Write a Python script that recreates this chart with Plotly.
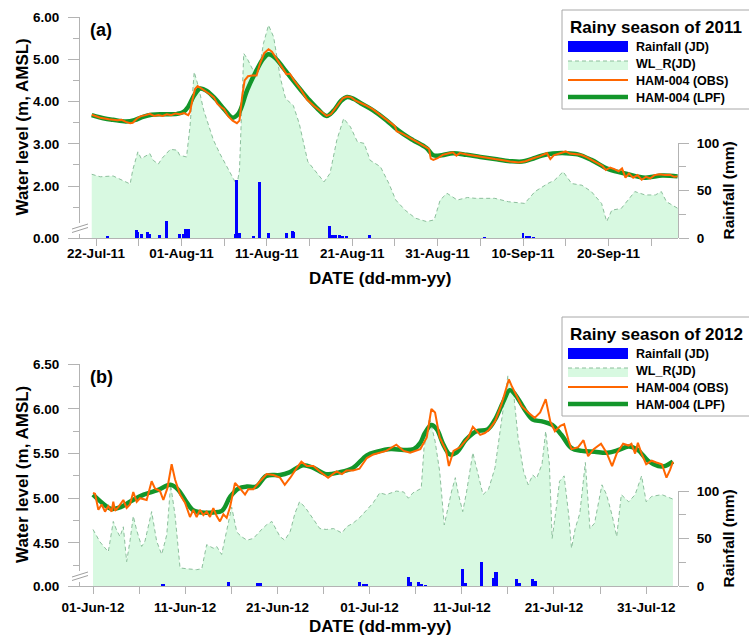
import numpy as np
import pandas as pd
import plotly.graph_objects as go

W, H = 749, 635
DAY_MS = 86400000

# ---------------- Panel (a): rainy season of 2011 (day offsets from 22-Jul-2011) ----------------
A_START = "2011-07-22"
A_RANGE_DAYS = [-1.874, 68.15]
A_TICK_DATES = ["2011-07-22", "2011-08-01", "2011-08-11", "2011-08-21", "2011-08-31", "2011-09-10", "2011-09-20"]
A_TICK_LABELS = ["22-Jul-11", "01-Aug-11", "11-Aug-11", "21-Aug-11", "31-Aug-11", "10-Sep-11", "20-Sep-11"]
A_WL_TICKVALS = [0.771, 2.0, 3.0, 4.0, 5.0, 6.0]      # 0.771 = position of the "0.00" tick below the axis break
A_WL_TICKTEXT = ["0.00", "2.00", "3.00", "4.00", "5.00", "6.00"]
A_WL_MINOR = [1.5, 2.5, 3.5, 4.5, 5.5]
A_WL_RANGE = [0.771, 6.003]

A_LPF_DAY = [-0.5, 1, 2, 3.5, 4.5, 5.5, 6.5, 8, 9.5, 10.2, 10.8, 11.5, 12.2, 13.0, 14.0, 15.0, 16.0, 16.7,
             17.7, 18.8, 19.6, 20.2, 21.0, 22.0, 23.0, 24.0, 25.0, 26.0, 27.0, 27.8, 28.7, 29.4, 30.2, 31.0,
             32.4, 34.0, 35.0, 36.0, 37.1, 38.7, 39.5, 40.5, 41.8, 43.4, 45.0, 46.7, 48.5, 49.9, 51.0, 52.2,
             53.5, 55.0, 56.4, 58.0, 60.0, 62.3, 64.3, 66.3, 68.1]
A_LPF = [3.68, 3.60, 3.57, 3.53, 3.56, 3.64, 3.69, 3.70, 3.71, 3.75, 3.88, 4.15, 4.31, 4.25, 4.06, 3.82, 3.62, 3.72,
         4.27, 4.74, 5.02, 5.12, 5.03, 4.78, 4.52, 4.27, 4.03, 3.82, 3.66, 3.78, 4.02, 4.11, 4.06, 3.96,
         3.80, 3.56, 3.38, 3.23, 3.09, 2.90, 2.73, 2.73, 2.78, 2.74, 2.69, 2.64, 2.59, 2.58, 2.64, 2.72,
         2.77, 2.78, 2.75, 2.62, 2.40, 2.28, 2.20, 2.25, 2.23]

A_OBS_DAY = [-0.5, 0.5, 1.5, 2.5, 3.0, 3.5, 4.0, 4.3, 4.8, 5.2, 5.8, 6.3, 6.8, 7.3, 7.8, 8.3, 8.8, 9.3, 9.8, 10.3,
             10.8, 11.0, 11.3, 11.6, 11.9, 12.3, 12.8, 13.3, 13.8, 14.2, 14.6, 15.0, 15.5, 16.0, 16.5, 16.8, 17.1,
             17.4, 17.8, 18.3, 18.8, 19.2, 19.7, 20.2, 20.6, 21.2, 21.7, 22.3, 22.7, 23.2, 24.0, 24.7, 25.5, 26.3,
             27.0, 27.5, 28.2, 28.9, 29.4, 29.9, 30.4, 30.9, 31.5, 32.4, 33.2, 34.0, 34.6, 35.0, 35.2, 35.8, 36.5,
             37.1, 37.8, 38.5, 39.0, 39.2, 39.5, 40.0, 40.6, 41.2, 41.8, 42.2, 42.6, 43.4, 44.2, 45.0, 46.0, 46.7,
             47.5, 48.5, 49.5, 50.3, 51.2, 52.0, 52.8, 53.2, 53.6, 54.5, 55.0, 55.5, 56.0, 56.8, 57.5, 58.2, 58.8,
             59.3, 59.7, 60.2, 60.7, 61.2, 61.6, 62.0, 62.4, 62.9, 63.4, 63.9, 64.4, 64.9, 65.4, 66.0, 66.6, 67.2,
             67.7, 68.1]
A_OBS = [3.69, 3.62, 3.58, 3.56, 3.57, 3.52, 3.49, 3.50, 3.60, 3.65, 3.68, 3.71, 3.66, 3.68, 3.66, 3.70, 3.68, 3.72,
         3.70, 3.73, 3.68, 3.75, 4.05, 4.30, 4.37, 4.32, 4.25, 4.18, 4.10, 3.95, 3.88, 3.82, 3.65, 3.55, 3.49, 3.55,
         4.10, 4.50, 4.60, 4.62, 4.62, 4.90, 5.15, 5.24, 5.18, 5.00, 4.82, 4.65, 4.66, 4.50, 4.28, 4.05, 3.90, 3.76,
         3.66, 3.70, 3.90, 4.08, 4.12, 4.10, 4.02, 3.98, 3.92, 3.82, 3.70, 3.58, 3.48, 3.42, 3.30, 3.25, 3.17,
         3.10, 3.02, 2.94, 2.88, 2.65, 2.62, 2.66, 2.74, 2.77, 2.80, 2.72, 2.78, 2.75, 2.72, 2.70, 2.67, 2.64,
         2.62, 2.58, 2.56, 2.59, 2.66, 2.71, 2.78, 2.64, 2.73, 2.80, 2.82, 2.77, 2.76, 2.74, 2.68, 2.60, 2.52,
         2.48, 2.38, 2.44, 2.40, 2.35, 2.42, 2.20, 2.30, 2.20, 2.26, 2.15, 2.22, 2.18, 2.26, 2.28, 2.26, 2.27,
         2.22, 2.23]

A_WLR_DAY = [-0.5, 0.5, 2.0, 3.0, 4.0, 4.3, 4.9, 5.3, 5.9, 6.3, 6.7, 7.3, 7.7, 8.7, 9.5, 9.8, 10.6, 11.0, 11.5,
             12.0, 12.6, 13.0, 13.75, 14.5, 15.3, 16.1, 16.5, 16.8, 17.3, 17.7, 18.4, 19.2, 19.6, 20.2, 20.8,
             21.6, 22.2, 23.1, 23.8, 24.8, 25.7, 26.7, 27.4, 28.2, 29.0, 29.8, 30.6, 31.4, 32.1, 33.3, 34.3,
             35.1, 36.2, 37.4, 38.7, 39.6, 40.3, 41.1, 42.3, 43.5, 44.4, 46.7, 48.3, 50.2, 51.4, 52.9, 53.7,
             54.7, 55.7, 56.9, 58.0, 59.2, 59.8, 60.4, 61.5, 62.3, 63.1, 64.3, 65.5, 66.2, 66.8, 68.15]
A_WLR = [2.28, 2.22, 2.24, 2.14, 2.05, 2.38, 2.81, 2.65, 2.73, 2.77, 2.61, 2.52, 2.65, 2.87, 2.85, 2.73, 2.69, 3.40, 4.70,
         4.35, 3.80, 3.56, 3.09, 2.77, 2.46, 2.14, 2.02, 2.38, 5.14, 5.02, 4.74, 4.86, 5.37, 5.81, 5.53,
         4.55, 4.07, 3.91, 3.48, 2.58, 2.34, 2.10, 2.30, 3.09, 3.60, 3.40, 3.05, 3.01, 2.61, 2.46, 2.06,
         1.67, 1.43, 1.24, 1.16, 1.20, 1.67, 1.83, 1.67, 1.73, 1.71, 1.71, 1.63, 1.59, 1.87, 2.06, 2.14,
         2.34, 2.06, 2.02, 1.87, 1.59, 1.16, 1.43, 1.47, 1.67, 1.87, 1.79, 1.79, 1.87, 1.63, 1.47]

A_RAIN_DAY = [1.3, 4.7, 4.9, 5.3, 6.0, 6.3, 7.4, 8.3, 9.8, 10.2, 10.5, 10.8, 16.3, 16.5, 16.8, 18.4, 19.2, 20.2,
              22.3, 23.0, 23.1, 27.3, 27.7, 28.1, 28.5, 28.9, 29.3, 32.0, 45.5, 50.0, 50.4, 50.8, 51.2]
A_RAIN = [2, 8.4, 6, 4, 6, 4, 3, 18, 4, 4, 9, 10, 4, 61, 5, 2, 59, 5,
          5, 7, 6, 13, 3, 3, 3, 2, 2, 3, 1, 5, 2, 2, 1]

# ---------------- Panel (b): rainy season of 2012 (day offsets from 01-Jun-2012) ----------------
B_START = "2012-06-01"
B_RANGE_DAYS = [-1.41, 63.45]
B_TICK_DATES = ["2012-06-01", "2012-06-11", "2012-06-21", "2012-07-01", "2012-07-11", "2012-07-21", "2012-07-31"]
B_TICK_LABELS = ["01-Jun-12", "11-Jun-12", "21-Jun-12", "01-Jul-12", "11-Jul-12", "21-Jul-12", "31-Jul-12"]
B_WL_TICKVALS = [4.017, 4.5, 5.0, 5.5, 6.0, 6.5]     # 4.017 = position of the "0.00" tick below the axis break
B_WL_TICKTEXT = ["0.00", "4.50", "5.00", "5.50", "6.00", "6.50"]
B_WL_MINOR = [4.25, 4.75, 5.25, 5.75, 6.25]
B_WL_RANGE = [4.017, 6.503]

B_LPF_DAY = [0, 1.2, 2.0, 3.0, 4.0, 5.5, 7.0, 8.4, 9.2, 10.0, 10.8, 11.8, 13.0, 14.0, 14.9, 15.8, 16.7, 17.7,
             18.8, 20.3, 21.3, 22.8, 23.9, 25.3, 26.7, 28.2, 29.7, 30.8, 32.3, 33.7, 34.8, 35.5, 36.0, 36.7,
             37.3, 38.0, 38.7, 39.4, 40.5, 41.6, 42.8, 43.6, 44.5, 45.2, 45.8, 46.9, 47.7, 48.7, 49.8, 50.8,
             51.9, 53.0, 54.4, 55.8, 57.0, 58.1, 59.1, 60.2, 61.3, 62.0, 62.9]
B_LPF = [5.04, 4.93, 4.88, 4.90, 4.96, 5.04, 5.09, 5.15, 5.10, 4.98, 4.87, 4.84, 4.84, 4.86, 5.02, 5.11, 5.13, 5.13,
         5.25, 5.26, 5.29, 5.37, 5.34, 5.27, 5.29, 5.34, 5.48, 5.52, 5.55, 5.54, 5.55, 5.62, 5.73, 5.82,
         5.77, 5.60, 5.49, 5.51, 5.66, 5.75, 5.77, 5.88, 6.08, 6.21, 6.16, 5.98, 5.88, 5.86, 5.82, 5.71,
         5.56, 5.53, 5.52, 5.51, 5.54, 5.58, 5.54, 5.42, 5.36, 5.36, 5.41]

B_OBS_DAY = [0.0, 0.22, 0.58, 0.94, 1.3, 1.66, 2.02, 2.2, 2.39, 2.75, 3.29, 3.65, 4.01, 4.37, 4.74, 5.1, 5.82,
             6.36, 6.72, 7.27, 7.63, 8.06, 8.53, 8.9, 9.44, 9.98, 10.52, 10.88, 11.24, 11.6, 11.97, 12.33,
             12.69, 13.05, 13.41, 13.77, 14.14, 14.5, 14.86, 15.4, 15.94, 16.49, 16.85, 17.39, 18.11, 18.84,
             19.56, 20.28, 20.8, 21.4, 22.1, 22.6, 23.2, 23.9, 24.6, 25.5, 26.4, 27.0, 27.5, 28.2, 28.9, 29.7,
             30.4, 31.1, 31.8, 32.9, 33.7, 34.4, 35.5, 36.2, 36.7, 37.1, 37.6, 38.3, 38.6, 39.1, 39.8, 40.7,
             41.2, 42.0, 42.5, 42.9, 43.6, 44.3, 45.1, 45.4, 45.9, 46.5, 47.2, 47.9, 48.5, 49.1, 49.6, 50.1,
             50.7, 51.1, 51.6, 51.9, 52.6, 53.2, 53.7, 54.3, 55.1, 55.7, 56.3, 56.8, 57.5, 58.1, 58.4, 58.8,
             59.1, 59.5, 60.0, 60.6, 61.1, 61.7, 62.2, 62.6, 62.9]
B_OBS = [5.06, 5.05, 4.87, 4.93, 4.85, 4.91, 4.85, 4.96, 4.86, 4.90, 4.98, 4.89, 4.93, 5.07, 4.96, 5.00, 4.98,
         5.19, 5.11, 5.08, 4.98, 5.11, 5.38, 5.21, 5.04, 4.95, 4.79, 4.87, 4.79, 4.87, 4.81, 4.85,
         4.79, 4.89, 4.80, 4.74, 4.82, 4.78, 4.90, 5.17, 5.11, 5.04, 5.10, 5.10, 5.19, 5.27,
         5.26, 5.23, 5.15, 5.23, 5.34, 5.41, 5.36, 5.36, 5.30, 5.23, 5.30, 5.27, 5.31, 5.31, 5.33, 5.45,
         5.49, 5.51, 5.53, 5.60, 5.53, 5.51, 5.55, 5.68, 6.00, 5.96, 5.68, 5.53, 5.36, 5.53, 5.57, 5.68,
         5.80, 5.71, 5.73, 5.76, 5.86, 6.05, 6.33, 6.26, 6.16, 6.03, 5.96, 5.90, 5.96, 6.11, 5.86, 5.75,
         5.81, 5.83, 5.64, 5.55, 5.57, 5.65, 5.47, 5.55, 5.61, 5.51, 5.36, 5.50, 5.61, 5.59, 5.61, 5.50,
         5.62, 5.50, 5.38, 5.42, 5.40, 5.38, 5.23, 5.32, 5.41]

B_WLR_DAY = [0, 0.76, 1.66, 2.2, 2.57, 2.93, 3.29, 3.65, 4.01, 4.37, 4.74, 5.28, 5.64, 6.36, 6.9, 7.45, 8.0, 8.42,
             8.9, 9.44, 10.16, 11.24, 11.8, 12.33, 13.05, 13.41, 13.95, 14.5, 15.04, 15.6, 16.1, 16.7, 17.4,
             18.1, 18.8, 19.4, 20.28, 20.8, 21.4, 21.9, 22.4, 23.0, 23.9, 24.6, 25.3, 26.1, 27.0, 27.5, 28.2,
             28.9, 29.7, 30.4, 31.1, 31.8, 32.9, 33.7, 34.2, 34.7, 35.6, 35.9, 36.5, 37.1, 37.6, 38.1, 38.5,
             38.9, 39.3, 39.6, 40.1, 40.5, 41.2, 41.8, 42.3, 42.9, 43.6, 44.3, 45.0, 45.6, 46.1, 46.7, 47.2,
             47.7, 48.1, 48.7, 49.1, 49.5, 49.8, 50.3, 50.6, 51.1, 51.6, 51.9, 52.3, 52.8, 53.4, 53.9, 54.4,
             55.2, 55.7, 56.3, 56.8, 57.3, 58.1, 58.8, 59.5, 60.0, 60.6, 61.7, 62.9]
B_WLR = [4.65, 4.51, 4.40, 4.74, 4.64, 4.57, 4.68, 4.29, 4.52, 4.80, 4.64, 4.46, 4.52, 4.85, 4.52, 4.37, 4.59, 5.15,
         4.81, 4.22, 4.21, 4.20, 4.21, 4.48, 4.44, 4.46, 4.37, 4.63, 4.90, 4.62, 4.57, 4.53, 4.55,
         4.63, 4.70, 4.74, 4.57, 4.53, 4.63, 4.83, 4.96, 4.90, 4.76, 4.66, 4.65, 4.66, 4.61, 4.68, 4.72,
         4.78, 4.87, 4.95, 5.06, 5.04, 5.08, 5.07, 5.00, 5.06, 5.11, 5.56, 5.90, 5.64, 5.30, 4.70, 4.89,
         5.08, 5.23, 5.06, 4.85, 5.06, 5.51, 5.25, 5.04, 5.10, 5.34, 5.86, 6.37, 6.20, 5.68, 5.30, 5.15,
         5.26, 5.22, 5.38, 5.75, 5.38, 4.55, 4.93, 5.19, 5.25, 4.81, 4.44, 4.66, 4.83, 5.40, 4.66, 4.72,
         5.15, 5.04, 4.81, 4.57, 5.04, 4.96, 5.04, 5.25, 4.96, 5.02, 5.04, 4.99]

B_RAIN_DAY = [7.6, 14.7, 17.8, 18.2, 28.9, 29.3, 29.6, 34.2, 34.4, 35.3, 35.6, 36.1, 40.1, 40.4, 42.1, 43.5,
              43.7, 45.9, 46.2, 47.7, 48.0]
B_RAIN = [2, 4.5, 3.5, 3.5, 4, 2, 2, 9.5, 4, 4, 2, 1, 17.5, 3, 25.5, 8, 15, 7.5, 3, 7, 5]

RAIN_TICKVALS = [0, 50, 100]
RAIN_MINOR = [25, 75]
RAIN_RANGE = [0, 100]

LEGEND_TITLES = ["Rainy season of 2011", "Rainy season of 2012"]
LEGEND_NAMES = ["Rainfall (JD)", "WL_R(JD)", "HAM-004 (OBS)", "HAM-004 (LPF)"]
PANEL_LABELS = ["(a)", "(b)"]

# ---------------- styles ----------------
C_RAIN = "#0000ff"
C_FILL = "#d8f9e1"
C_FILL_LINE = "#8cbf9c"
C_OBS = "#ff6600"
C_LPF = "#13962a"
C_AXIS = "#b3b3b3"
FONT = "Liberation Sans, Arial, sans-serif"
BAR_WIDTH_DAYS = 0.35


def X(px):
    return px / W


def Y(py):
    return 1 - py / H


def dates(start, days):
    return pd.Timestamp(start) + pd.to_timedelta(np.asarray(days, dtype=float), unit="D")


def date_str(start, day):
    return (pd.Timestamp(start) + pd.Timedelta(days=day)).strftime("%Y-%m-%d %H:%M:%S")


fig = go.Figure()

panels = [
    dict(start=A_START, lpf=(A_LPF_DAY, A_LPF), obs=(A_OBS_DAY, A_OBS), wlr=(A_WLR_DAY, A_WLR),
         rain=(A_RAIN_DAY, A_RAIN), xa="x", ya="y", ra="y3"),
    dict(start=B_START, lpf=(B_LPF_DAY, B_LPF), obs=(B_OBS_DAY, B_OBS), wlr=(B_WLR_DAY, B_WLR),
         rain=(B_RAIN_DAY, B_RAIN), xa="x2", ya="y2", ra="y4"),
]

for p in panels:
    s = p["start"]
    fig.add_trace(go.Scatter(x=dates(s, p["wlr"][0]), y=p["wlr"][1], xaxis=p["xa"], yaxis=p["ya"],
                             mode="lines", fill="tozeroy", fillcolor=C_FILL,
                             line=dict(color=C_FILL_LINE, width=1, dash="4px,3px"), name=LEGEND_NAMES[1]))
    fig.add_trace(go.Bar(x=dates(s, p["rain"][0]), y=p["rain"][1], xaxis=p["xa"], yaxis=p["ra"],
                         marker=dict(color=C_RAIN, line=dict(width=0)), width=BAR_WIDTH_DAYS * DAY_MS,
                         name=LEGEND_NAMES[0]))
    fig.add_trace(go.Scatter(x=dates(s, p["lpf"][0]), y=p["lpf"][1], xaxis=p["xa"], yaxis=p["ya"],
                             mode="lines", line=dict(color=C_LPF, width=4.5, shape="spline", smoothing=1.0),
                             name=LEGEND_NAMES[3]))
    fig.add_trace(go.Scatter(x=dates(s, p["obs"][0]), y=p["obs"][1], xaxis=p["xa"], yaxis=p["ya"],
                             mode="lines", line=dict(color=C_OBS, width=2), name=LEGEND_NAMES[2]))

# geometry (pixels)
PLOT_L, PLOT_R = 80, 678
A_TOP, A_BOT, A_RAIN_TOP = 17, 238, 143
B_TOP, B_BOT, B_RAIN_TOP = 364, 586, 491

tickfont = dict(family=FONT, size=13.5, color="black", weight="bold")


def xaxis_cfg(start, rng, tdates, tlabels, anchor, standoff):
    return dict(domain=[X(PLOT_L), X(PLOT_R)], anchor=anchor, type="date",
                range=[date_str(start, rng[0]), date_str(start, rng[1])],
                tickmode="array", tickvals=tdates, ticktext=tlabels,
                ticks="outside", ticklen=7, tickcolor=C_AXIS, tickwidth=1,
                minor=dict(dtick=5 * DAY_MS, tick0=start, ticks="outside", ticklen=7, tickcolor=C_AXIS),
                showline=True, linecolor=C_AXIS, linewidth=1, showgrid=False, zeroline=False,
                tickfont=tickfont, ticklabelstandoff=standoff, automargin=False)


def yaxis_cfg(top, bot, rng, tv, tt, minor, anchor):
    return dict(domain=[Y(bot), Y(top)], anchor=anchor, range=rng, tickmode="array", tickvals=tv, ticktext=tt,
                ticks="outside", ticklen=11, tickcolor=C_AXIS, tickwidth=1,
                minor=dict(tickmode="array", tickvals=minor, ticks="outside", ticklen=6, tickcolor=C_AXIS),
                showline=True, linecolor=C_AXIS, linewidth=1, showgrid=False, zeroline=False,
                tickfont=tickfont, ticklabelstandoff=6, automargin=False)


def raxis_cfg(rtop, bot, anchor):
    return dict(domain=[Y(bot), Y(rtop)], anchor=anchor, side="right", range=RAIN_RANGE,
                tickmode="array", tickvals=RAIN_TICKVALS, ticktext=[str(v) for v in RAIN_TICKVALS],
                ticks="outside", ticklen=10, tickcolor=C_AXIS, tickwidth=1,
                minor=dict(tickmode="array", tickvals=RAIN_MINOR, ticks="outside", ticklen=7, tickcolor=C_AXIS),
                showline=True, linecolor=C_AXIS, linewidth=1, showgrid=False, zeroline=False,
                tickfont=tickfont, ticklabelstandoff=5, automargin=False)


fig.update_layout(
    width=W, height=H, margin=dict(l=0, r=0, t=0, b=0),
    paper_bgcolor="white", plot_bgcolor="rgba(0,0,0,0)",
    showlegend=False, bargap=0,
    font=dict(family=FONT, color="black"),
    xaxis=xaxis_cfg(A_START, A_RANGE_DAYS, A_TICK_DATES, A_TICK_LABELS, "y", -4),
    xaxis2=xaxis_cfg(B_START, B_RANGE_DAYS, B_TICK_DATES, B_TICK_LABELS, "y2", 2),
    yaxis=yaxis_cfg(A_TOP, A_BOT, A_WL_RANGE, A_WL_TICKVALS, A_WL_TICKTEXT, A_WL_MINOR, "x"),
    yaxis2=yaxis_cfg(B_TOP, B_BOT, B_WL_RANGE, B_WL_TICKVALS, B_WL_TICKTEXT, B_WL_MINOR, "x2"),
    yaxis3=raxis_cfg(A_RAIN_TOP, A_BOT, "x"),
    yaxis4=raxis_cfg(B_RAIN_TOP, B_BOT, "x2"),
)

shapes = []
annotations = []

# axis breaks
for brk in (226, 574):
    shapes.append(dict(type="rect", xref="paper", yref="paper", x0=X(78), x1=X(82), y0=Y(brk + 8), y1=Y(brk - 3),
                       fillcolor="white", line=dict(width=0), layer="above"))
    for off in (0, 3.5):
        shapes.append(dict(type="line", xref="paper", yref="paper", x0=X(72), y0=Y(brk + 3 + off),
                           x1=X(88), y1=Y(brk - 2 + off), line=dict(color="#a0a0a0", width=1), layer="above"))

# legends (drawn boxes)
for i, top in enumerate((10, 317)):
    shapes.append(dict(type="rect", xref="paper", yref="paper", x0=X(562), x1=X(760), y0=Y(top + 99), y1=Y(top),
                       fillcolor="white", line=dict(color="#a8a8a8", width=1), layer="above"))
    annotations.append(dict(xref="paper", yref="paper", x=X(568), y=Y(top + 17), xanchor="left", yanchor="middle",
                            text=LEGEND_TITLES[i], showarrow=False,
                            font=dict(family=FONT, size=17, color="black", weight="bold")))
    shapes.append(dict(type="rect", xref="paper", yref="paper", x0=X(568), x1=X(628), y0=Y(top + 42), y1=Y(top + 31),
                       fillcolor=C_RAIN, line=dict(width=0), layer="above"))
    shapes.append(dict(type="rect", xref="paper", yref="paper", x0=X(568), x1=X(628), y0=Y(top + 60), y1=Y(top + 51),
                       fillcolor=C_FILL, line=dict(width=0), layer="above"))
    shapes.append(dict(type="line", xref="paper", yref="paper", x0=X(568), x1=X(628), y0=Y(top + 51), y1=Y(top + 51),
                       line=dict(color=C_FILL_LINE, width=1, dash="4px,3px"), layer="above"))
    shapes.append(dict(type="line", xref="paper", yref="paper", x0=X(568), x1=X(628), y0=Y(top + 70), y1=Y(top + 70),
                       line=dict(color=C_OBS, width=2), layer="above"))
    shapes.append(dict(type="line", xref="paper", yref="paper", x0=X(568), x1=X(628), y0=Y(top + 87), y1=Y(top + 87),
                       line=dict(color=C_LPF, width=4.5), layer="above"))
    for j, cy in enumerate((37, 54, 71, 88)):
        annotations.append(dict(xref="paper", yref="paper", x=X(634), y=Y(top + cy), xanchor="left",
                                yanchor="middle", text=LEGEND_NAMES[j], showarrow=False,
                                font=dict(family=FONT, size=12.5, color="black", weight="bold")))

# panel labels and axis titles
title_font = dict(family=FONT, size=17, color="black", weight="bold")
for i, (top, bot, rtop) in enumerate(((A_TOP, A_BOT, A_RAIN_TOP), (B_TOP, B_BOT, B_RAIN_TOP))):
    annotations.append(dict(xref="paper", yref="paper", x=X(88), y=Y(top + 13), xanchor="left", yanchor="middle",
                            text=PANEL_LABELS[i], showarrow=False,
                            font=dict(family=FONT, size=18, color="black", weight="bold")))
    annotations.append(dict(xref="paper", yref="paper", x=X(22), y=Y((top + bot) / 2), xanchor="center",
                            yanchor="middle", textangle=-90, text="Water level (m, AMSL)", showarrow=False,
                            font=title_font))
    annotations.append(dict(xref="paper", yref="paper", x=X(728), y=Y((rtop + bot) / 2), xanchor="center",
                            yanchor="middle", textangle=-90, text="Rainfall (mm)", showarrow=False,
                            font=dict(family=FONT, size=15.5, color="black", weight="bold")))
    annotations.append(dict(xref="paper", yref="paper", x=X(380), y=Y(bot + 40),
                            xanchor="center", yanchor="middle", text="DATE (dd-mm-yy)", showarrow=False,
                            font=title_font))

fig.update_layout(shapes=shapes, annotations=annotations)
fig.write_html("out.html", config={"displayModeBar": False},
               post_script="document.body.style.margin='0';document.body.style.padding='0';"
                           "document.body.style.overflow='hidden';")
